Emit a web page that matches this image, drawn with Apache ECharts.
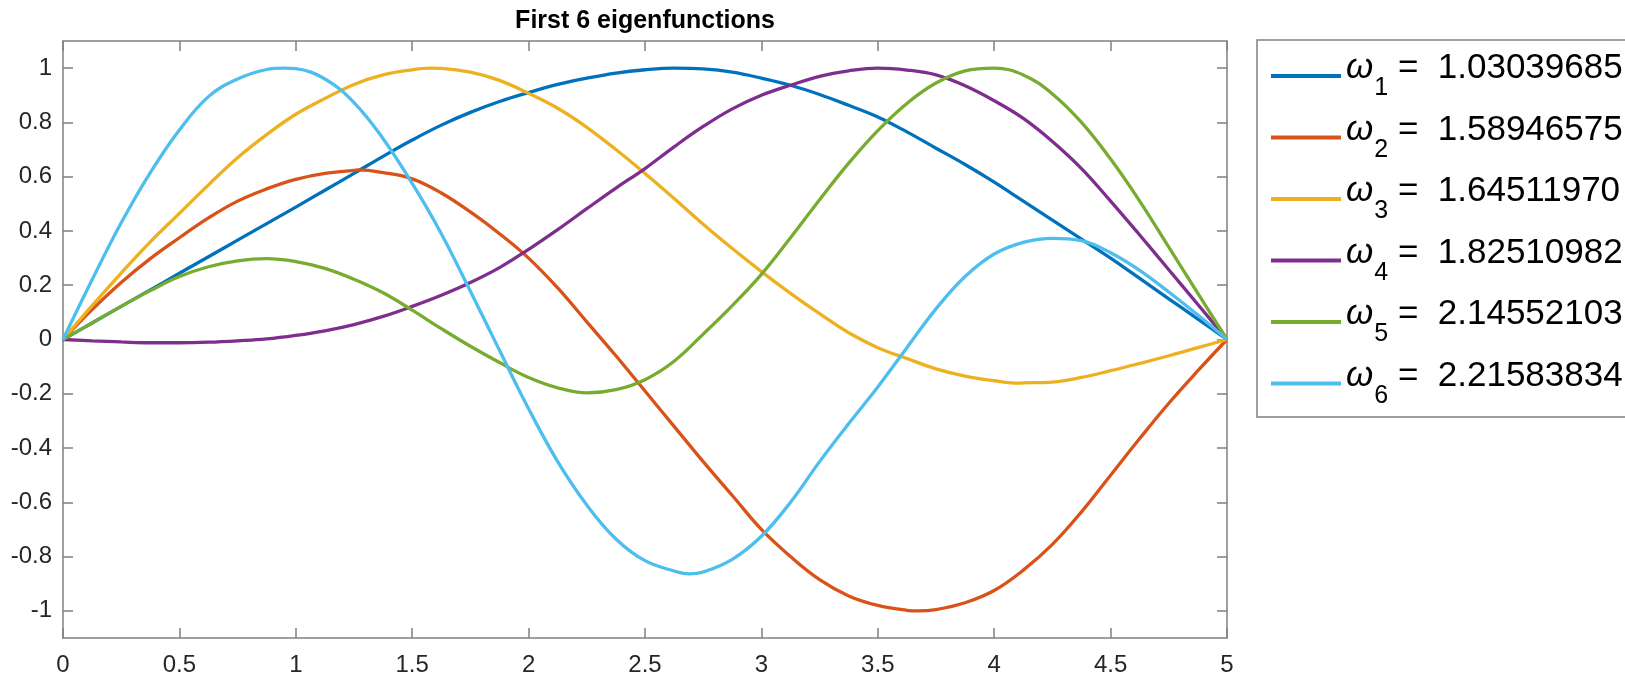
<!DOCTYPE html>
<html>
<head>
<meta charset="utf-8">
<script src="https://cdn.jsdelivr.net/npm/echarts@6/dist/echarts.min.js"></script>
<style>
html,body{margin:0;padding:0;background:#fff;}
#chart{width:1625px;height:677px;}
</style>
</head>
<body>
<div id="chart"></div>
<script>
// ---- data ----
const seriesNames = ['ω1', 'ω2', 'ω3', 'ω4', 'ω5', 'ω6'];
const omegaValues = ['1.03039685', '1.58946575', '1.64511970', '1.82510982', '2.14552103', '2.21583834'];
const xTickValues = [0, 0.5, 1, 1.5, 2, 2.5, 3, 3.5, 4, 4.5, 5];
const yTickValues = [-1, -0.8, -0.6, -0.4, -0.2, 0, 0.2, 0.4, 0.6, 0.8, 1];

// sample positions along x (0 .. 5, every 0.125)
const xs = [0, 0.125, 0.25, 0.375, 0.5, 0.625, 0.75, 0.875, 1, 1.125, 1.25, 1.375, 1.5, 1.625, 1.75, 1.875,
  2, 2.125, 2.25, 2.375, 2.5, 2.625, 2.75, 2.875, 3, 3.125, 3.25, 3.375, 3.5, 3.625, 3.75, 3.875,
  4, 4.125, 4.25, 4.375, 4.5, 4.625, 4.75, 4.875, 5];

const mode1 = [0, 0.061, 0.122, 0.183, 0.244, 0.305, 0.366, 0.427, 0.488, 0.550, 0.612, 0.675, 0.735, 0.790, 0.837, 0.877,
  0.910, 0.940, 0.963, 0.982, 0.994, 1.000, 0.997, 0.985, 0.963, 0.937, 0.903, 0.863, 0.820, 0.765, 0.705, 0.645,
  0.580, 0.510, 0.440, 0.370, 0.300, 0.225, 0.150, 0.075, 0];
const mode2 = [0, 0.110, 0.210, 0.298, 0.375, 0.448, 0.510, 0.555, 0.590, 0.612, 0.623, 0.615, 0.592, 0.540, 0.470, 0.390,
  0.300, 0.190, 0.065, -0.060, -0.190, -0.320, -0.450, -0.575, -0.700, -0.800, -0.885, -0.945, -0.980, -0.998, -0.995, -0.970,
  -0.925, -0.850, -0.755, -0.635, -0.500, -0.365, -0.235, -0.115, 0];
const mode3 = [0, 0.125, 0.245, 0.360, 0.465, 0.570, 0.670, 0.755, 0.830, 0.888, 0.940, 0.975, 0.994, 0.999, 0.985, 0.955,
  0.907, 0.852, 0.782, 0.700, 0.612, 0.520, 0.425, 0.335, 0.250, 0.170, 0.095, 0.025, -0.030, -0.070, -0.108, -0.135,
  -0.152, -0.160, -0.157, -0.140, -0.115, -0.088, -0.060, -0.030, 0];
const mode4 = [0, -0.005, -0.009, -0.012, -0.012, -0.010, -0.005, 0.002, 0.015, 0.032, 0.055, 0.085, 0.122, 0.163, 0.210, 0.265,
  0.332, 0.405, 0.482, 0.558, 0.630, 0.710, 0.785, 0.850, 0.900, 0.937, 0.970, 0.990, 1.000, 0.993, 0.975, 0.935,
  0.880, 0.815, 0.730, 0.630, 0.510, 0.385, 0.257, 0.129, 0];
const mode5 = [0, 0.061, 0.122, 0.180, 0.232, 0.268, 0.290, 0.298, 0.287, 0.262, 0.222, 0.172, 0.108, 0.040, -0.025, -0.085,
  -0.140, -0.178, -0.197, -0.185, -0.148, -0.080, 0.020, 0.125, 0.240, 0.375, 0.515, 0.650, 0.770, 0.870, 0.945, 0.990,
  1.000, 0.975, 0.905, 0.800, 0.665, 0.510, 0.340, 0.170, 0];
const mode6 = [0, 0.220, 0.430, 0.615, 0.772, 0.895, 0.960, 0.995, 0.998, 0.960, 0.873, 0.740, 0.575, 0.390, 0.178, -0.040,
  -0.255, -0.450, -0.610, -0.735, -0.815, -0.853, -0.857, -0.810, -0.725, -0.600, -0.450, -0.310, -0.175, -0.030, 0.113, 0.232,
  0.315, 0.358, 0.373, 0.364, 0.320, 0.255, 0.175, 0.090, 0];

// extreme points: [x, y]
const extremes1 = [];
const extremes2 = [[1.27, 0.625], [3.67, -1.0]];
const extremes3 = [[1.58, 1.0], [4.11, -0.161]];
const extremes4 = [];
const extremes5 = [];
const extremes6 = [[0.95, 1.0], [2.69, -0.864]];

const modes = [mode1, mode2, mode3, mode4, mode5, mode6];
const extremes = [extremes1, extremes2, extremes3, extremes4, extremes5, extremes6];
const colors = ['#0072BD', '#D95319', '#EDB120', '#7E2F8E', '#77AC30', '#4DBEEE'];

const FONT = 'Liberation Sans, Arial, Helvetica, sans-serif';
const AXIS_COLOR = '#808080';

const chart = echarts.init(document.getElementById('chart'), null, {renderer: 'canvas'});

const series = modes.map((m, i) => ({
  name: seriesNames[i],
  type: 'line',
  xAxisIndex: 0,
  yAxisIndex: 0,
  data: xs.map((x, k) => [x, m[k]]).concat(extremes[i]).sort((a, b) => a[0] - b[0]),
  showSymbol: false,
  symbol: 'none',
  smooth: 0.4,
  lineStyle: {width: 3.3, color: colors[i]},
  itemStyle: {color: colors[i]},
  emphasis: {disabled: true},
  z: 2 + i
}));

const baseAxisLine = {show: true, onZero: false, lineStyle: {color: AXIS_COLOR, width: 1.5}};
const baseTick = {show: true, inside: true, length: 10, lineStyle: {color: AXIS_COLOR, width: 1.5}};

const option = {
  animation: false,
  backgroundColor: '#ffffff',
  title: {
    text: 'First 6 eigenfunctions',
    left: 645,
    top: 9,
    textAlign: 'center',
    padding: 0,
    textStyle: {fontFamily: FONT, fontWeight: 'bold', fontSize: 25, color: '#000000'}
  },
  grid: {left: 63, right: 398, top: 41, bottom: 37, containLabel: false},
  xAxis: [
    {
      type: 'value', min: 0, max: 5, interval: 0.5, position: 'bottom',
      axisLine: baseAxisLine, axisTick: baseTick,
      axisLabel: {show: true, margin: 15, fontFamily: FONT, fontSize: 24, color: '#262626',
        customValues: xTickValues},
      splitLine: {show: false}
    },
    {
      type: 'value', min: 0, max: 5, interval: 0.5, position: 'top',
      axisLine: baseAxisLine, axisTick: baseTick,
      axisLabel: {show: false}, splitLine: {show: false}
    }
  ],
  yAxis: [
    {
      type: 'value', min: -1.1, max: 1.1, position: 'left',
      axisLine: baseAxisLine,
      axisTick: Object.assign({}, baseTick, {customValues: yTickValues}),
      axisLabel: {show: true, margin: 11, fontFamily: FONT, fontSize: 24, color: '#262626',
        customValues: yTickValues},
      splitLine: {show: false}
    },
    {
      type: 'value', min: -1.1, max: 1.1, position: 'right',
      axisLine: baseAxisLine,
      axisTick: Object.assign({}, baseTick, {customValues: yTickValues}),
      axisLabel: {show: false}, splitLine: {show: false}
    }
  ],
  legend: {
    show: true,
    orient: 'vertical',
    left: 1271,
    top: 51,
    padding: 0,
    itemWidth: 70,
    itemHeight: 14,
    itemGap: 11.5,
    icon: 'path://M0,0 L70,0 L70,4 L0,4 Z',
    selectedMode: false,
    data: seriesNames.map((n, i) => ({name: n, itemStyle: {color: colors[i]}})),
    formatter: function (name) {
      const i = seriesNames.indexOf(name);
      return '{w|ω}{s|' + (i + 1) + '}{t| =  ' + omegaValues[i] + '}';
    },
    textStyle: {
      fontFamily: FONT, fontSize: 35, color: '#000000', lineHeight: 50,
      rich: {
        w: {fontFamily: FONT, fontStyle: 'italic', fontSize: 35, lineHeight: 50, verticalAlign: 'top', color: '#000000'},
        s: {fontFamily: FONT, fontSize: 25, lineHeight: 50, verticalAlign: 'bottom', color: '#000000', padding: [0, 0, 0, 1]},
        t: {fontFamily: FONT, fontSize: 35, lineHeight: 50, verticalAlign: 'top', color: '#000000'}
      }
    }
  },
  graphic: [
    {
      type: 'rect',
      shape: {x: 1257, y: 40, width: 500, height: 377},
      style: {fill: 'none', stroke: AXIS_COLOR, lineWidth: 1.5},
      silent: true,
      z: -1
    }
  ],
  series: series
};

chart.setOption(option);
</script>
</body>
</html>
